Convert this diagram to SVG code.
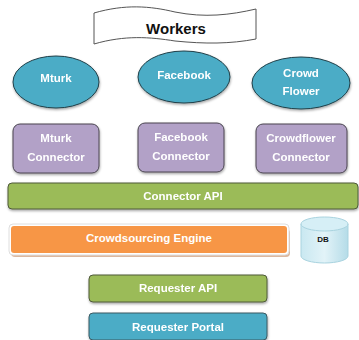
<svg xmlns="http://www.w3.org/2000/svg" width="359" height="340" viewBox="0 0 359 340">
<defs>
<linearGradient id="dbg" x1="0" y1="0" x2="1" y2="0">
<stop offset="0" stop-color="#c9e8f1"/>
<stop offset="0.5" stop-color="#e2f3f8"/>
<stop offset="1" stop-color="#b5dce8"/>
</linearGradient>
<filter id="sh" x="-10%" y="-10%" width="120%" height="140%">
<feDropShadow dx="0.5" dy="1.5" stdDeviation="0.8" flood-color="#000" flood-opacity="0.35"/>
</filter>
<filter id="ts" x="-10%" y="-30%" width="120%" height="160%">
<feDropShadow dx="0.4" dy="0.6" stdDeviation="0.3" flood-color="#000" flood-opacity="0.35"/>
</filter>
</defs>
<style>
.t{font-family:"Liberation Sans",Arial,sans-serif;font-weight:bold;font-size:11.5px;fill:#fff;text-anchor:middle}
.ell{fill:#4bacc6;stroke:#1f3f48;stroke-width:1}
.con{fill:#b2a1c7;stroke:#4a4550;stroke-width:1}
.grn{fill:#9bbb59;stroke:#4f5a3a;stroke-width:1}
.blu{fill:#4bacc6;stroke:#3c5a62;stroke-width:1}
</style>
<rect width="359" height="340" fill="#fff"/>
<g id="workers">
<path d="M94,13 C125,4 150,6 175,12 C205,18 230,15 256,9 L256,39 C230,44 205,44 175,41 C150,37 125,35 94,44 Z" fill="#fff" stroke="#555" stroke-width="1"/>
<text x="176" y="34" style="font-family:'Liberation Sans',Arial,sans-serif;font-weight:bold;font-size:15px;fill:#111;text-anchor:middle">Workers</text>
</g>
<g id="mturk" filter="url(#sh)">
<ellipse class="ell" cx="56" cy="82" rx="43" ry="26"/>
<text class="t" x="56" y="82">Mturk</text>
</g>
<g id="facebook" filter="url(#sh)">
<ellipse class="ell" cx="184" cy="77" rx="46" ry="26"/>
<text class="t" x="184" y="79">Facebook</text>
</g>
<g id="crowdflower" filter="url(#sh)">
<ellipse class="ell" cx="301" cy="83" rx="49" ry="26"/>
<text class="t" x="301" y="77">Crowd</text>
<text class="t" x="301" y="95">Flower</text>
</g>
<g id="mturk-connector" filter="url(#sh)">
<rect class="con" x="13" y="124" width="86" height="49" rx="7"/>
<text class="t" x="56" y="142">Mturk</text>
<text class="t" x="56" y="161">Connector</text>
</g>
<g id="facebook-connector" filter="url(#sh)">
<rect class="con" x="138" y="123" width="86" height="49" rx="7"/>
<text class="t" x="181" y="141">Facebook</text>
<text class="t" x="181" y="160">Connector</text>
</g>
<g id="crowdflower-connector" filter="url(#sh)">
<rect class="con" x="256" y="124" width="91" height="49" rx="7"/>
<text class="t" x="301" y="142">Crowdflower</text>
<text class="t" x="301" y="161">Connector</text>
</g>
<g id="connector-api" filter="url(#sh)">
<rect class="grn" x="8" y="183" width="350" height="26" rx="4"/>
<text class="t" x="183" y="200">Connector API</text>
</g>
<g id="crowdsourcing-engine">
<rect x="11" y="229" width="279" height="28" rx="4" fill="#dcb9a0"/>
<rect x="9" y="224" width="280" height="31" rx="4" fill="#fff" stroke="#dedede" stroke-width="1"/>
<rect x="11" y="226" width="276" height="27" rx="3" fill="#f79646"/>
<text class="t" x="149" y="242">Crowdsourcing Engine</text>
</g>
<g id="db">
<path d="M301,224 L301,256 A23.5,7 0 0 0 348,256 L348,224" fill="url(#dbg)" stroke="#a9d3df" stroke-width="1"/>
<ellipse cx="324.5" cy="224" rx="23.5" ry="7" fill="#d6eff6" stroke="#a9d3df" stroke-width="1"/>
<text x="323" y="242" style="font-family:'Liberation Sans',Arial,sans-serif;font-weight:bold;font-size:8px;fill:#111;text-anchor:middle">DB</text>
</g>
<g id="requester-api" filter="url(#sh)">
<rect class="grn" x="89" y="275" width="178" height="27" rx="4"/>
<text class="t" x="178" y="292">Requester API</text>
</g>
<g id="requester-portal" filter="url(#sh)">
<rect class="blu" x="89" y="313" width="178" height="27" rx="4"/>
<text class="t" x="178" y="331">Requester Portal</text>
</g>
<g id="connectors"/>
</svg>
